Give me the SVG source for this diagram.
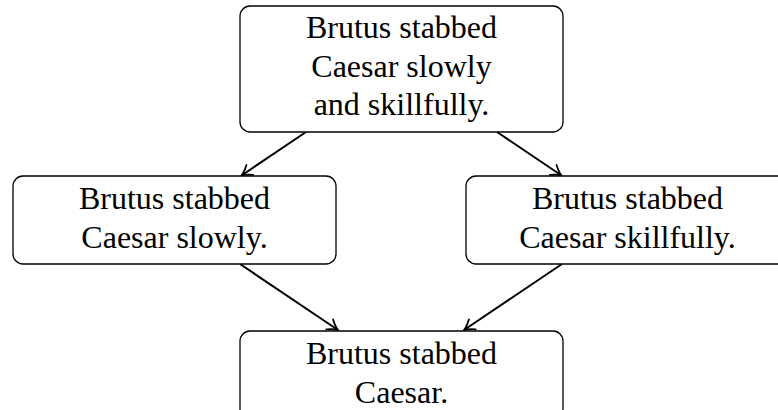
<svg xmlns="http://www.w3.org/2000/svg" width="778" height="410" viewBox="0 0 778 410">
  <style>
    .box { fill: #ffffff; stroke: #000000; stroke-width: 1.3; }
    .lbl { font-family: "Liberation Serif", "Times New Roman", serif; font-size: 32px; fill: #000000; text-anchor: middle; }
    .edge { stroke: #000000; stroke-width: 2; fill: none; marker-end: url(#arrow); }
  </style>
  <defs>
    <marker id="arrow" markerUnits="userSpaceOnUse" viewBox="-12 -8 14 16" refX="0" refY="0" markerWidth="14" markerHeight="16" orient="auto">
      <path d="M -10 -6 C -6 -2.8 -2.8 -0.9 0 0 C -2.8 0.9 -6 2.8 -10 6" fill="none" stroke="#000000" stroke-width="1.8" stroke-linecap="round" stroke-linejoin="round"/>
    </marker>
  </defs>
  <rect width="778" height="410" fill="#ffffff"/>
  <g id="connectors">
    <line class="edge" x1="306" y1="132" x2="241.5" y2="175.5"/>
    <line class="edge" x1="497" y1="132" x2="561.5" y2="175.5"/>
    <line class="edge" x1="240" y1="264" x2="338" y2="330"/>
    <line class="edge" x1="562" y1="264" x2="464" y2="330"/>
  </g>
  <g id="node-top">
    <rect class="box" x="240" y="6" width="323" height="126" rx="10" ry="10"/>
    <text class="lbl" x="401.5" y="38">Brutus stabbed</text>
    <text class="lbl" x="401.5" y="76.5">Caesar slowly</text>
    <text class="lbl" x="401.5" y="115">and skillfully.</text>
  </g>
  <g id="node-left">
    <rect class="box" x="13" y="176" width="323" height="88" rx="10" ry="10"/>
    <text class="lbl" x="174.5" y="209">Brutus stabbed</text>
    <text class="lbl" x="174.5" y="248">Caesar slowly.</text>
  </g>
  <g id="node-right">
    <rect class="box" x="466" y="176" width="323" height="88" rx="10" ry="10"/>
    <text class="lbl" x="627.5" y="209">Brutus stabbed</text>
    <text class="lbl" x="627.5" y="248">Caesar skillfully.</text>
  </g>
  <g id="node-bottom">
    <rect class="box" x="240" y="331" width="323" height="88" rx="10" ry="10"/>
    <text class="lbl" x="401.5" y="364">Brutus stabbed</text>
    <text class="lbl" x="401.5" y="403">Caesar.</text>
  </g>
</svg>
